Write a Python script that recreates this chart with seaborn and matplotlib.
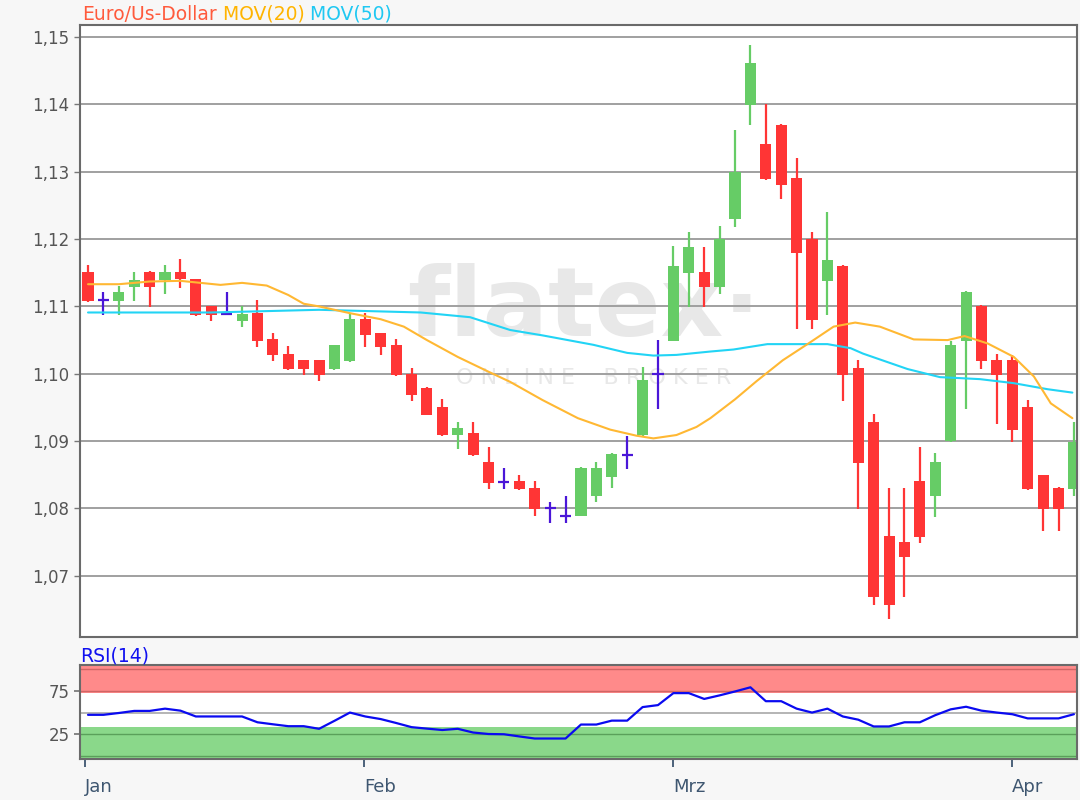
import numpy as np
import pandas as pd
import matplotlib
matplotlib.use("Agg")
import matplotlib.pyplot as plt
import seaborn as sns

# ---- data (EUR/USD daily candles) ----
opens = [1.1151, 1.1109, 1.1108, 1.1129, 1.1151, 1.1139, 1.1151, 1.1140, 1.1101, 1.1089,
         1.1078, 1.1090, 1.1051, 1.1030, 1.1021, 1.1021, 1.1007, 1.1019, 1.1081, 1.1060,
         1.1042, 1.0999, 1.0979, 1.0950, 1.0909, 1.0912, 1.0869, 1.0839, 1.0840, 1.0831,
         1.0801, 1.0789, 1.0789, 1.0818, 1.0847, 1.0880, 1.0909, 1.1000, 1.1049, 1.1150,
         1.1151, 1.1129, 1.1230, 1.1399, 1.1341, 1.1370, 1.1291, 1.1200, 1.1138, 1.1160,
         1.1009, 1.0929, 1.0759, 1.0750, 1.0840, 1.0818, 1.0900, 1.1049, 1.1101, 1.1020,
         1.1020, 1.0950, 1.0849, 1.0831, 1.0829]
highs = [1.1161, 1.1122, 1.1131, 1.1151, 1.1152, 1.1161, 1.1170, 1.1141, 1.1101, 1.1122,
         1.1100, 1.1110, 1.1060, 1.1041, 1.1021, 1.1021, 1.1043, 1.1090, 1.1090, 1.1060,
         1.1051, 1.1009, 1.0980, 1.0962, 1.0929, 1.0929, 1.0891, 1.0860, 1.0849, 1.0840,
         1.0810, 1.0818, 1.0861, 1.0869, 1.0882, 1.0908, 1.1010, 1.1050, 1.1190, 1.1211,
         1.1189, 1.1219, 1.1362, 1.1489, 1.1400, 1.1371, 1.1321, 1.1211, 1.1240, 1.1161,
         1.1020, 1.0940, 1.0831, 1.0831, 1.0891, 1.0882, 1.1048, 1.1123, 1.1102, 1.1030,
         1.1028, 1.0961, 1.0850, 1.0832, 1.0929]
lows = [1.1107, 1.1087, 1.1087, 1.1108, 1.1099, 1.1119, 1.1128, 1.1086, 1.1078, 1.1088,
        1.1069, 1.1039, 1.1019, 1.1006, 1.0998, 1.0989, 1.1006, 1.1018, 1.1039, 1.1028,
        1.0997, 1.0959, 1.0938, 1.0908, 1.0888, 1.0878, 1.0829, 1.0829, 1.0828, 1.0788,
        1.0779, 1.0779, 1.0788, 1.0809, 1.0830, 1.0858, 1.0908, 1.0948, 1.1048, 1.1099,
        1.1099, 1.1119, 1.1218, 1.1369, 1.1288, 1.1259, 1.1067, 1.1067, 1.1087, 1.0959,
        1.0799, 1.0657, 1.0636, 1.0668, 1.0748, 1.0787, 1.0899, 1.0947, 1.1007, 1.0926,
        1.0898, 1.0828, 1.0767, 1.0767, 1.0818]
closes = [1.1108, 1.1109, 1.1122, 1.1139, 1.1129, 1.1151, 1.1140, 1.1087, 1.1087, 1.1089,
          1.1089, 1.1049, 1.1028, 1.1007, 1.1007, 1.0998, 1.1042, 1.1081, 1.1057, 1.1039,
          1.0998, 1.0968, 1.0939, 1.0909, 1.0920, 1.0879, 1.0838, 1.0839, 1.0829, 1.0799,
          1.0801, 1.0789, 1.0860, 1.0860, 1.0881, 1.0880, 1.0991, 1.1000, 1.1160, 1.1189,
          1.1129, 1.1200, 1.1299, 1.1461, 1.1289, 1.1280, 1.1180, 1.1080, 1.1169, 1.0998,
          1.0867, 1.0669, 1.0657, 1.0728, 1.0758, 1.0869, 1.1042, 1.1122, 1.1019, 1.0998,
          1.0917, 1.0829, 1.0799, 1.0799, 1.0898]

# moving averages, sampled where they could be read (x = candle number)
mov20_x = [0, 2, 4, 6, 8.6, 10, 11.6, 13, 14, 15, 17, 19, 20.5, 22, 24, 26, 27.4, 29.5,
           31.8, 33.9, 35.6, 36.7, 38.2, 39.5, 40.4, 42, 43.4, 45.1, 46.9, 48.4, 49.8,
           51.4, 53.6, 55.8, 56.9, 58.4, 60.1, 61.4, 62.5, 63.9]
mov20_y = [1.1133, 1.1133, 1.1137, 1.1138, 1.1132, 1.1135, 1.1131, 1.1117, 1.1104, 1.1100,
           1.1090, 1.1081, 1.1070, 1.1050, 1.1025, 1.1003, 1.0988, 1.0961, 1.0934, 1.0917,
           1.0908, 1.0904, 1.0909, 1.0921, 1.0934, 1.0962, 1.0989, 1.1020, 1.1047, 1.1070,
           1.1076, 1.1070, 1.1051, 1.1050, 1.1056, 1.1045, 1.1025, 1.0996, 1.0956, 1.0934]
mov50_x = [0, 8, 15, 21.6, 24.8, 27.4, 29.5, 32.8, 35, 36.7, 38.2, 40.4, 41.9, 44.1, 48,
           49.5, 50.3, 53.2, 55.3, 57.9, 60.1, 62.3, 63.9]
mov50_y = [1.1091, 1.1091, 1.1095, 1.1091, 1.1084, 1.1065, 1.1057, 1.1043, 1.1031, 1.1027,
           1.1028, 1.1033, 1.1036, 1.1044, 1.1044, 1.1038, 1.1030, 1.1007, 1.0995, 1.0992,
           1.0986, 1.0977, 1.0972]

rsi = [47.4, 47.4, 49.5, 51.9, 51.9, 54.5, 52.2, 45.5, 45.5, 45.5,
       45.5, 38.8, 36.5, 34.3, 34.3, 31.3, 40.5, 50.0, 45.5, 42.5,
       38.0, 33.2, 31.5, 29.9, 31.3, 27.0, 25.3, 25.0, 22.5, 20.1,
       20.1, 20.1, 36.2, 36.2, 40.7, 40.7, 56.3, 58.6, 72.4, 72.4,
       65.7, 69.8, 74.3, 79.1, 63.1, 63.1, 54.5, 50.0, 54.5, 45.5,
       41.8, 34.0, 34.0, 38.8, 38.8, 47.0, 53.7, 56.7, 52.2, 50.0,
       48.1, 43.3, 43.3, 43.3, 48.1]

price_ticks = [1.07, 1.08, 1.09, 1.10, 1.11, 1.12, 1.13, 1.14, 1.15]
rsi_ticks = [25, 75]
month_labels = ["Jan", "Feb", "Mrz", "Apr"]
month_pos = [-0.2, 17.9, 38, 60]

df = pd.DataFrame({"o": opens, "h": highs, "l": lows, "c": closes})
df["i"] = np.arange(len(df))

sns.set_theme(style="white")
plt.rcParams["font.family"] = ["DejaVu Sans"]

RED, GREEN, BLUE = "#ff3535", "#66cc66", "#4a16d8"

fig = plt.figure(figsize=(10.8, 8), dpi=100, facecolor="#f7f7f7")
ax = fig.add_axes([80 / 1080, 1 - 637 / 800, 997 / 1080, 612 / 800])
ax2 = fig.add_axes([80 / 1080, 1 - 759 / 800, 997 / 1080, 94 / 800])

# watermark
ax.text(0.505, 0.535, "flatex·", transform=ax.transAxes, fontsize=70, color="#e8e8e8",
        ha="center", va="center", zorder=0, fontweight="bold")
ax.text(0.515, 0.423, "O N L I N E    B R O K E R", transform=ax.transAxes, fontsize=16,
        color="#e8e8e8", ha="center", va="center", zorder=0)

# candles
cols = np.where(df.c > df.o, GREEN, np.where(df.c < df.o, RED, BLUE))
ax.vlines(df.i, df.l, df.h, colors=cols, lw=1.6, zorder=2)
body_lo = np.minimum(df.o, df.c)
body_h = (df.c - df.o).abs()
ax.bar(df.i, body_h, bottom=body_lo, width=0.72, color=cols, zorder=2, linewidth=0)
doji = df[df.c == df.o]
ax.hlines(doji.c, doji.i - 0.36, doji.i + 0.36, colors=BLUE, lw=1.6, zorder=2)

sns.lineplot(x=mov50_x, y=mov50_y, ax=ax, color="#22d4f5", lw=1.5, zorder=3)
sns.lineplot(x=mov20_x, y=mov20_y, ax=ax, color="#ffb833", lw=1.5, zorder=3)

ax.set_xlim(-0.52, 64.2)
ax.set_ylim(1.0609, 1.1518)
ax.set_yticks(price_ticks)
ax.set_yticklabels([f"{t:.2f}".replace(".", ",") for t in price_ticks])
ax.yaxis.grid(True, color="#a0a0a0", lw=1.4, zorder=1)
ax.set_axisbelow(True)
ax.set_xticks([])
ax.tick_params(axis="y", left=True, length=4, width=1, color="#777777",
               labelcolor="#555555", labelsize=12, pad=4)
ax.set_facecolor("white")
for s in ax.spines.values():
    s.set_color("#6a6a6a")
    s.set_linewidth(1.5)
ax.set_xlabel("")
ax.set_ylabel("")

# legend-like title
t = fig.text(82 / 1080, 1 - 20 / 800, "Euro/Us-Dollar", color="#ff5a3c", fontsize=13.5,
             va="baseline")
t = ax.annotate(" MOV(20)", xy=(1, 0), xycoords=t, color="#ffb400", fontsize=13.5,
                va="bottom")
ax.annotate(" MOV(50)", xy=(1, 0), xycoords=t, color="#1fc8f2", fontsize=13.5, va="bottom")

# RSI panel
ax2.set_facecolor("white")
ax2.axhspan(72, 104.8, color="#ff8a8a", zorder=0, lw=0)
ax2.axhspan(-3.5, 33, color="#8ad88a", zorder=0, lw=0)
for lvl in (100, 75):
    ax2.axhline(lvl, color="#d06565", lw=1, zorder=1)
for lvl in (25, 0):
    ax2.axhline(lvl, color="#5aa05a", lw=1, zorder=1)
ax2.axhline(50, color="#a8a8a8", lw=1.2, zorder=1)
sns.lineplot(x=df.i, y=rsi, ax=ax2, color="#0a0af0", lw=1.6, zorder=3)
ax2.set_xlim(-0.52, 64.2)
ax2.set_ylim(-3.5, 104.8)
ax2.set_yticks(rsi_ticks)
ax2.set_xticks(month_pos)
ax2.set_xticklabels(month_labels, ha="left")
ax2.set_xlabel("")
ax2.set_ylabel("")
ax2.tick_params(axis="y", left=True, length=4, color="#777777", labelcolor="#555555",
                labelsize=12)
ax2.tick_params(axis="x", bottom=True, length=6, width=1.3, color="#3e5670",
                labelcolor="#3e5670", labelsize=13, pad=8)
for s in ax2.spines.values():
    s.set_color("#6a6a6a")
    s.set_linewidth(1.5)
fig.text(80 / 1080, 1 - 661 / 800, "RSI(14)", color="#1010f0", fontsize=13.5, va="baseline")

fig.savefig("out.png", dpi=100, facecolor=fig.get_facecolor())
